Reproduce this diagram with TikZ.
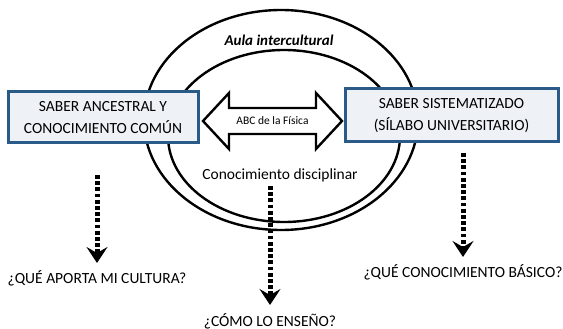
\documentclass[tikz,border=0pt]{standalone}
\usepackage{fontspec}
\setmainfont{Carlito}
\usetikzlibrary{arrows.meta}
\definecolor{boxblue}{HTML}{2A5A88}
\definecolor{boxfill}{HTML}{EEF2F7}
\tikzset{
  ring/.style={draw=black, line width=2.4pt},
  knowbox/.style={draw=boxblue, fill=boxfill, line width=3pt, font=\fontsize{15.5}{22}\selectfont, align=center, inner sep=0pt},
  qlabel/.style={font=\fontsize{15.5}{18}\selectfont, inner sep=0pt},
  dotarrow/.style={line width=5pt, dash pattern=on 3.8pt off 2.4pt, -{Stealth[length=16pt,width=21pt,inset=6pt]}}
}
\begin{document}
\begin{tikzpicture}[x=1pt,y=-1pt]
\useasboundingbox (0,0) rectangle (563,329);
% ellipses
\draw[ring] (281,120) ellipse [x radius=137, y radius=110];
\draw[ring] (284,136) ellipse [x radius=116, y radius=86];
\node[font=\fontsize{15}{17}\selectfont\bfseries\itshape] (aula) at (279,40) {Aula intercultural};
\node[font=\fontsize{15.5}{18}\selectfont] (disc) at (280,175) {Conocimiento disciplinar};
% boxes
\node[knowbox, minimum width=190pt, minimum height=51pt] (ances) at (103,117.5) {SABER ANCESTRAL Y\\CONOCIMIENTO COMÚN};
\node[knowbox, minimum width=213pt, minimum height=53pt] (sist) at (451.5,115.5) {SABER SISTEMATIZADO\\(SÍLABO UNIVERSITARIO)};
% double arrow
\coordinate (abc) at (272.5,121);
\draw[fill=white, line width=2.4pt, line join=miter]
  (203,121) -- (229,93) -- (229,108) -- (316,108) -- (316,93) -- (342,121)
  -- (316,149) -- (316,134) -- (229,134) -- (229,149) -- cycle;
\node[font=\fontsize{11.5}{13}\selectfont] (abct) at (abc) {ABC de la Física};
% questions
\node[qlabel] (q1) at (97,278) {¿QUÉ APORTA MI CULTURA?};
\node[qlabel] (q2) at (270,321) {¿CÓMO LO ENSEÑO?};
\node[qlabel] (q3) at (463,272) {¿QUÉ CONOCIMIENTO BÁSICO?};
\coordinate (s1) at (97,175);
\coordinate (e1) at (97,263);
\coordinate (s2) at (270,186);
\coordinate (e2) at (270,305);
\coordinate (s3) at (463,153);
\coordinate (e3) at (463,257);
\draw[dotarrow] (s1) -- (e1);
\draw[dotarrow] (s2) -- (e2);
\draw[dotarrow] (s3) -- (e3);
\end{tikzpicture}
\end{document}
